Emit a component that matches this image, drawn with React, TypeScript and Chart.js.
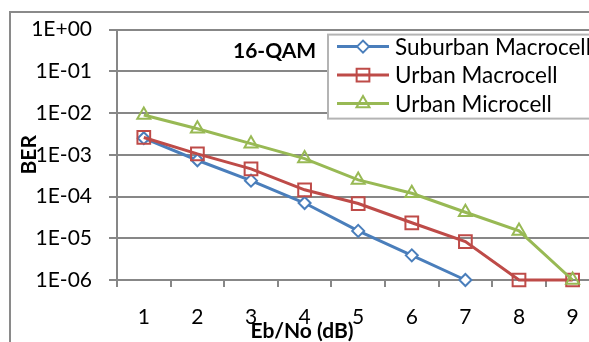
import React, { useEffect, useRef } from 'react';
import { Chart, registerables } from 'chart.js';
import { drawPoint } from 'chart.js/helpers';

Chart.register(...registerables);

const categories = ['1', '2', '3', '4', '5', '6', '7', '8', '9'];
const suburbanMacrocell = [2.5e-3, 7.4e-4, 2.4e-4, 7.0e-5, 1.5e-5, 3.9e-6, 1.0e-6, null, null];
const urbanMacrocell = [2.6e-3, 1.05e-3, 4.6e-4, 1.45e-4, 6.8e-5, 2.35e-5, 8.3e-6, 1.0e-6, 1.0e-6];
const urbanMicrocell = [9.0e-3, 4.2e-3, 1.85e-3, 8.1e-4, 2.5e-4, 1.2e-4, 4.2e-5, 1.5e-5, 1.0e-6];
const yTickValues = [1e-6, 1e-5, 1e-4, 1e-3, 1e-2, 1e-1, 1];
const yTickLabels = ['1E-06', '1E-05', '1E-04', '1E-03', '1E-02', '1E-01', '1E+00'];
const seriesNames = ['Suburban Macrocell', 'Urban Macrocell', 'Urban Microcell'];
const chartTitle = '16-QAM';
const xTitle = 'Eb/No (dB)';
const yTitle = 'BER';

const FONT = 'Lato';
const GRID = '#878787';

const overlayPlugin = {
  id: 'overlay',
  afterDraw(chart: any) {
    const { ctx, chartArea } = chart;
    ctx.save();
    ctx.fillStyle = '#000';
    ctx.textBaseline = 'middle';
    ctx.font = `bold 21px ${FONT}`;
    ctx.textAlign = 'left';
    ctx.fillText(chartTitle, chartArea.left + 116, chartArea.top + 22);
    ctx.textAlign = 'center';
    ctx.fillText(xTitle, chartArea.left + 185, chartArea.bottom + 51);
    ctx.save();
    ctx.translate(29, (chartArea.top + chartArea.bottom) / 2);
    ctx.rotate(-Math.PI / 2);
    ctx.fillText(yTitle, 0, 0);
    ctx.restore();

    // legend
    const lx = chartArea.left + 211;
    const ly = chartArea.top + 5;
    ctx.fillStyle = '#fff';
    ctx.fillRect(lx, ly, 400, 84);
    ctx.strokeStyle = '#b4b4b4';
    ctx.lineWidth = 2;
    ctx.strokeRect(lx, ly, 400, 84);
    chart.data.datasets.forEach((ds: any, i: number) => {
      const y = ly + 12 + i * 28.5;
      ctx.strokeStyle = ds.borderColor;
      ctx.lineWidth = ds.borderWidth;
      ctx.beginPath();
      ctx.moveTo(lx + 9, y);
      ctx.lineTo(lx + 61, y);
      ctx.stroke();
      ctx.fillStyle = ds.pointBackgroundColor;
      ctx.strokeStyle = ds.borderColor;
      ctx.lineWidth = ds.pointBorderWidth;
      drawPoint(ctx, { pointStyle: ds.pointStyle, radius: ds.pointRadius, rotation: 0, borderWidth: ds.pointBorderWidth } as any, lx + 35, y);
      ctx.fillStyle = '#000';
      ctx.font = `22.5px ${FONT}`;
      ctx.textAlign = 'left';
      ctx.fillText(ds.label, lx + 67, y + 1);
    });
    ctx.restore();
  },
};

export default function App() {
  const ref = useRef<HTMLCanvasElement>(null);
  useEffect(() => {
    if (!ref.current) return;
    Chart.defaults.font.family = FONT;
    Chart.defaults.color = '#000';
    const chart = new Chart(ref.current, {
      type: 'line',
      data: {
        labels: categories,
        datasets: [
          {
            label: seriesNames[0],
            data: suburbanMacrocell,
            borderColor: '#4a7ebb',
            backgroundColor: '#4a7ebb',
            borderWidth: 3,
            pointStyle: 'rectRot',
            pointRadius: 6,
            pointBorderWidth: 2,
            pointBackgroundColor: '#ffffff',
            pointBorderColor: '#4a7ebb',
            order: 3,
            clip: false as any,
          },
          {
            label: seriesNames[1],
            data: urbanMacrocell,
            borderColor: '#be4b48',
            backgroundColor: '#be4b48',
            borderWidth: 3,
            pointStyle: 'rect',
            pointRadius: 9,
            pointBorderWidth: 2,
            pointBackgroundColor: 'rgba(0,0,0,0)',
            pointBorderColor: '#be4b48',
            order: 2,
            clip: false as any,
          },
          {
            label: seriesNames[2],
            data: urbanMicrocell,
            borderColor: '#98b954',
            backgroundColor: '#98b954',
            borderWidth: 3,
            pointStyle: 'triangle',
            pointRadius: 7.5,
            pointBorderWidth: 2,
            pointBackgroundColor: 'rgba(0,0,0,0)',
            pointBorderColor: '#98b954',
            order: 1,
            clip: false as any,
          },
        ],
      },
      options: {
        animation: false,
        responsive: false,
        devicePixelRatio: 1,
        layout: { padding: { top: 26, left: 0, right: 40.6, bottom: 0 } },
        plugins: { legend: { display: false }, tooltip: { enabled: false } },
        scales: {
          x: {
            type: 'category',
            offset: true,
            grid: {
              offset: true,
              drawOnChartArea: false,
              drawTicks: true,
              tickLength: 7,
              color: GRID,
              lineWidth: 2,
            },
            border: { color: GRID, width: 2 },
            ticks: { font: { size: 21 }, padding: 18, color: '#000', maxRotation: 0 },
            afterFit: (scale: any) => {
              scale.height = 80;
            },
          },
          y: {
            type: 'logarithmic',
            min: yTickValues[0],
            max: yTickValues[yTickValues.length - 1],
            grid: { color: GRID, lineWidth: 2, tickLength: 8, drawTicks: true },
            border: { color: GRID, width: 2 },
            ticks: {
              font: { size: 21 },
              padding: 17,
              color: '#000',
              autoSkip: false,
              callback: (_v: any, i: number) => yTickLabels[i],
            },
            afterBuildTicks: (scale: any) => {
              scale.ticks = yTickValues.map((v) => ({ value: v }));
            },
            afterFit: (scale: any) => {
              scale.width = 117;
            },
          },
        },
      },
      plugins: [overlayPlugin],
    } as any);
    return () => chart.destroy();
  }, []);

  return (
    <div style={{ position: 'fixed', left: 0, top: 0, width: 589, height: 342, overflow: 'hidden', background: '#fff' }}>
      <div
        style={{
          position: 'absolute',
          left: 9,
          top: 11,
          width: 1000,
          height: 1000,
          border: '2px solid #8a8a8a',
          boxSizing: 'border-box',
        }}
      />
      <canvas ref={ref} width={640} height={360} style={{ position: 'absolute', left: 0, top: 0, width: 640, height: 360 }} />
    </div>
  );
}
